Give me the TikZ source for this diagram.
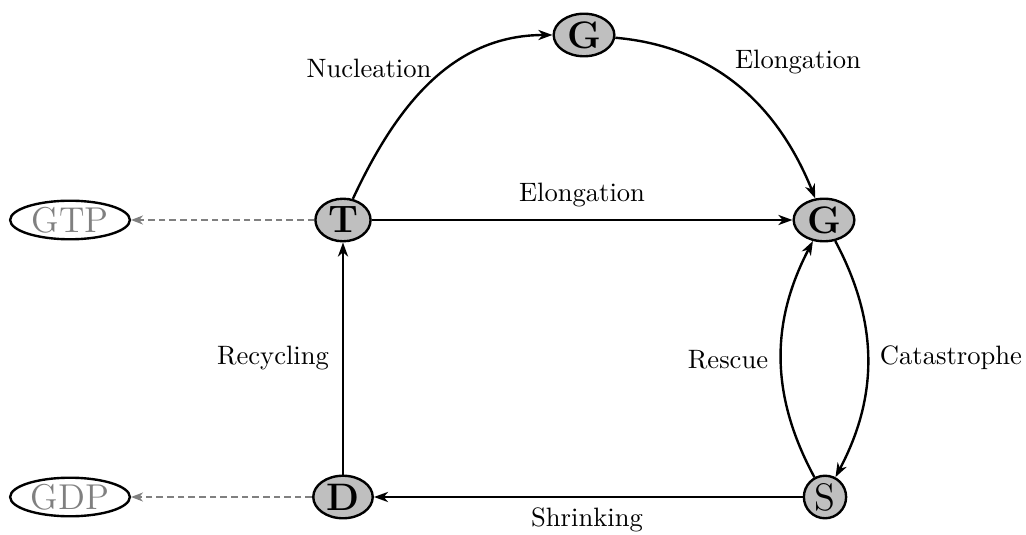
\documentclass[tikz,border=0pt]{standalone}
\usetikzlibrary{shapes.geometric,arrows.meta}
\begin{document}
\begin{tikzpicture}[x=0.376pt,y=-0.376pt,
  state/.style={ellipse,draw=black,line width=0.9pt,fill=black!25,inner xsep=1.7pt,inner ysep=0pt,minimum height=16pt,font=\Large\bfseries},
  ext/.style={ellipse,draw=black,line width=0.9pt,inner sep=0pt,minimum width=45pt,minimum height=14.5pt,text=black!50,font=\fontsize{13.5}{15}\selectfont},
  flow/.style={line width=0.9pt,-{Stealth[length=5.3pt,width=3.8pt,inset=1.6pt]}},
  leak/.style={line width=0.7pt,draw=black!50,dashed,dash pattern=on 2.5pt off 1.5pt,-{Stealth[length=4.5pt,width=3.4pt,inset=1.4pt]}},
  lab/.style={font=\normalsize}]
\useasboundingbox (0,0) rectangle (1026,535);
\node[state] (G1) at (584,35) {G};
\node[state] (G2) at (824,220) {G};
\node[state] (T) at (343,220) {T};
\node[state] (D) at (343,497) {D};
\node[state,font=\Large] (S) at (825,497) {S};
\node[ext] (GTP) at (70,220) {GTP};
\node[ext] (GDP) at (70,497) {GDP};
\draw[flow] (T) to[out=65,in=180] (G1);
\draw[flow] (G1) to[out=-5,in=112] (G2);
\draw[flow] (T) -- (G2);
\draw[flow] (G2) to[bend left=28] (S);
\draw[flow] (S) to[bend left=28] (G2);
\draw[flow] (S) -- (D);
\draw[flow] (D) -- (T);
\draw[leak] (T) -- (GTP);
\draw[leak] (D) -- (GDP);
\node[lab] (l1) at (369,68) {Nucleation};
\node[lab] (l2) at (798,62) {Elongation};
\node[lab] (l3) at (582,195) {Elongation};
\node[lab] (l4) at (273,358) {Recycling};
\node[lab] (l5) at (728,360) {Rescue};
\node[lab] (l6) at (951,358) {Catastrophe};
\node[lab] (l7) at (587,520) {Shrinking};
\end{tikzpicture}
\end{document}
